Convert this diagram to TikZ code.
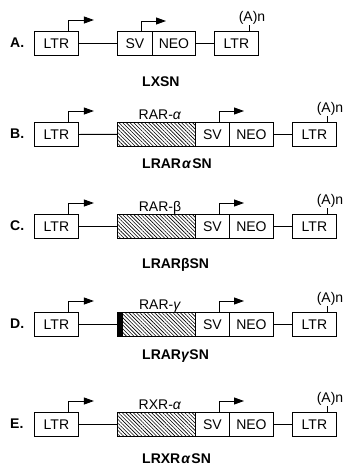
\documentclass[tikz,border=0pt]{standalone}
\usepackage{fontspec}
\setmainfont{Liberation Sans}
\usetikzlibrary{arrows.meta,patterns.meta}
\begin{document}
\begin{tikzpicture}[x=1pt,y=-1pt,
  seg/.style={draw,line width=0.9pt,inner sep=0pt,minimum height=24pt,anchor=north west,font=\fontsize{14}{14}\selectfont},
  hatch/.style={seg,pattern={Lines[angle=-45,distance=2.6pt,line width=0.6pt]}},
  wire/.style={line width=0.9pt},
  prom/.style={line width=0.9pt,-{Triangle[length=10pt,width=7pt]}},
  tag/.style={font=\fontsize{14}{14}\selectfont\bfseries,anchor=west,inner sep=0pt},
  title/.style={font=\fontsize{14}{14}\selectfont\bfseries,anchor=base west,inner sep=0pt},
  gene/.style={font=\fontsize{14}{14}\selectfont,anchor=base,inner sep=0pt},
  polya/.style={font=\fontsize{14}{14}\selectfont,anchor=base,inner sep=0pt}
]
\useasboundingbox (0,0) rectangle (345,467);

\newcommand\rowconstruct[6]{%
  \node[tag] (#1tag) at (10,#2+12) {#3};
  \node[seg,minimum width=44pt] (#1L1) at (34,#2) {LTR};
  \node[hatch,minimum width=78pt] (#1G) at (117,#2) {};
  \node[seg,minimum width=34pt] (#1SV) at (195,#2) {SV};
  \node[seg,minimum width=44pt] (#1NEO) at (229,#2) {NEO};
  \node[seg,minimum width=44pt] (#1L2) at (292,#2) {LTR};
  \draw[wire] (#1L1.east) -- (#1G.west);
  \draw[wire] (#1NEO.east) -- (#1L2.west);
  \draw[prom] (#1L1.north east) ++(-10,0) |- ++(25,-11);
  \draw[prom] (#1SV.north west) ++(24,0) |- ++(25,-11);
  \draw[wire] (#1L2.north east) ++(-9,0) -- ++(0,-6);
  \node[polya] (#1pa) at (330,#2-10) {(A)n};
  \node[gene] (#1gene) at (160,#2-3) {#4};
  \node[title] (#1title) at (142,#5) {#6};
}

% Row A
\node[tag] (atag) at (10,43) {A.};
\node[seg,minimum width=44pt] (aL1) at (34,31) {LTR};
\node[seg,minimum width=35pt] (aSV) at (117,31) {SV};
\node[seg,minimum width=43pt] (aNEO) at (152,31) {NEO};
\node[seg,minimum width=44pt] (aL2) at (214,31) {LTR};
\draw[wire] (aL1.east) -- (aSV.west);
\draw[wire] (aNEO.east) -- (aL2.west);
\draw[prom] (aL1.north east) ++(-10,0) |- ++(25,-11);
\draw[prom] (aSV.north west) ++(24,0) |- ++(25,-10);
\draw[wire] (aL2.north east) ++(-9,0) -- ++(0,-6);
\node[polya] (apa) at (252,21) {(A)n};
\node[title] (atitle) at (142,86) {LXSN};

\rowconstruct{b}{122}{B.}{RAR-\textit{α}}{168}{LRAR\kern1pt\textit{α}\kern1pt SN}
\rowconstruct{c}{214}{C.}{RAR-β}{268}{LRARβSN}
\rowconstruct{d}{312}{D.}{RAR-\textit{γ}}{359}{LRAR\textit{γ}SN}
\rowconstruct{e}{412}{E.}{RXR-\textit{α}}{463}{LRXR\kern1pt\textit{α}\kern1pt SN}
\fill (dG.north west) rectangle ([xshift=6pt]dG.south west);
\end{tikzpicture}
\end{document}
